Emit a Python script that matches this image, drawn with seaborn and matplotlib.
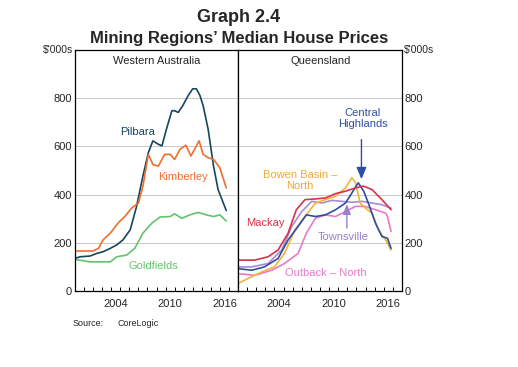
import matplotlib
matplotlib.use("Agg")
import matplotlib.pyplot as plt
import seaborn as sns
import pandas as pd
import numpy as np

# ---------------- data ----------------
pilbara_x = [2000, 2000.55, 2001.65, 2002.4, 2003.1, 2003.9, 2004.6, 2005.3, 2006.1, 2006.8, 2007.5,
             2008.1, 2008.6, 2009.2, 2009.6, 2010.1, 2010.7, 2011.0, 2011.4, 2011.9, 2012.5, 2013.0,
             2013.4, 2013.8, 2014.15, 2014.7, 2015.3, 2015.8, 2016.7]
pilbara_y = [135, 142, 145, 156, 163, 177, 191, 212, 254, 351, 477, 574, 623, 609, 602, 672, 748, 748,
             741, 769, 811, 839, 839, 811, 769, 672, 518, 421, 334]

kimberley_x = [2000, 2002.0, 2002.6, 2003.1, 2003.9, 2004.8, 2005.5, 2006.25, 2007.0, 2007.5, 2008.1,
               2008.6, 2009.2, 2009.9, 2010.5, 2011.0, 2011.6, 2012.25, 2012.8, 2013.2, 2013.7, 2014.15,
               2014.7, 2015.3, 2016.0, 2016.7]
kimberley_y = [166, 166, 177, 212, 240, 284, 309, 344, 365, 435, 567, 525, 518, 567, 567, 546, 588, 605,
               560, 588, 623, 567, 553, 546, 511, 428]

goldfields_x = [2000, 2001.65, 2003.9, 2004.6, 2005.7, 2006.6, 2007.5, 2008.5, 2009.4, 2010.5, 2011.0,
                2011.8, 2012.7, 2013.6, 2014.5, 2015.3, 2016.0, 2016.7]
goldfields_y = [131, 121, 121, 142, 149, 177, 240, 282, 307, 309, 320, 302, 316, 326, 316, 309, 316, 290]

mackay_x = [2000, 2001.8, 2003.3, 2004.4, 2005.5, 2006.4, 2007.35, 2008.5, 2009.6, 2010.7, 2011.8,
            2012.9, 2013.8, 2014.7, 2015.8, 2016.8]
mackay_y = [128, 128, 142, 170, 240, 337, 379, 382, 386, 404, 414, 428, 435, 421, 379, 337]

central_x = [2000, 2001.5, 2002.9, 2004.4, 2005.5, 2006.6, 2007.5, 2008.5, 2009.6, 2010.7, 2011.8,
             2012.5, 2013.2, 2013.8, 2014.3, 2015.1, 2015.8, 2016.4, 2016.8]
central_y = [93, 86, 100, 135, 212, 268, 316, 309, 316, 337, 365, 407, 449, 414, 365, 281, 226, 219, 177]

bowen_x = [2000, 2001.1, 2002.6, 2004.0, 2005.1, 2006.25, 2007.35, 2008.5, 2009.6, 2010.7, 2011.8,
           2012.5, 2012.9, 2013.4, 2014.0, 2014.7, 2015.4, 2016.2, 2016.8]
bowen_y = [31, 52, 79, 100, 156, 254, 309, 365, 379, 393, 428, 470, 449, 365, 344, 323, 254, 212, 170]

townsville_x = [2000, 2001.5, 2003.3, 2004.8, 2005.9, 2007.0, 2008.1, 2009.2, 2010.3, 2011.4, 2012.5,
                2013.6, 2014.7, 2015.8, 2016.8]
townsville_y = [100, 100, 114, 170, 268, 330, 372, 365, 376, 372, 368, 372, 365, 358, 344]

outback_x = [2000, 2001.8, 2003.7, 2005.1, 2006.6, 2007.5, 2008.5, 2009.6, 2010.7, 2011.8, 2012.9,
             2014.0, 2015.1, 2016.2, 2016.4, 2016.8]
outback_y = [72, 65, 86, 114, 156, 240, 302, 316, 309, 330, 351, 351, 337, 323, 309, 247]

y_ticks = [0, 200, 400, 600, 800]
x_tick_labels = ["2004", "2010", "2016"]

# ---------------- styling ----------------
sns.set_theme(style="white")
plt.rcParams['font.family'] = ['Liberation Sans', 'DejaVu Sans']

colors = {
    "Pilbara": "#17455a",
    "Kimberley": "#ee6f2d",
    "Goldfields": "#62c46a",
    "Mackay": "#d9314b",
    "Central Highlands": "#2f4ea3",
    "Bowen Basin – North": "#f4b336",
    "Townsville": "#a88bd2",
    "Outback – North": "#e67ac8",
}

def frame(name, xs, ys):
    return pd.DataFrame({"year": xs, "value": ys, "series": name})

wa = pd.concat([frame("Pilbara", pilbara_x, pilbara_y),
                frame("Kimberley", kimberley_x, kimberley_y),
                frame("Goldfields", goldfields_x, goldfields_y)], ignore_index=True)
qld = pd.concat([frame("Townsville", townsville_x, townsville_y),
                 frame("Outback – North", outback_x, outback_y),
                 frame("Bowen Basin – North", bowen_x, bowen_y),
                 frame("Central Highlands", central_x, central_y),
                 frame("Mackay", mackay_x, mackay_y)], ignore_index=True)

fig = plt.figure(figsize=(5.18, 3.67), dpi=100)
L, R, B, T = 75/518, 402/518, 1 - 291/367, 1 - 50/367
mid = 238/518
ax1 = fig.add_axes([L, B, mid - L, T - B])
ax2 = fig.add_axes([mid, B, R - mid, T - B])

for ax, df in [(ax1, wa), (ax2, qld)]:
    for yv in [200, 400, 600, 800]:
        ax.axhline(yv, color="#c8c8c8", lw=0.7, zorder=0)
    sns.lineplot(data=df, x="year", y="value", hue="series", palette=colors,
                 ax=ax, legend=False, linewidth=1.2, estimator=None, sort=False)
    ax.set_xlim(2000, 2018)
    ax.set_ylim(0, 1000)
    ax.set_xlabel("")
    ax.set_ylabel("")
    ax.set_xticks([2004.5, 2010.5, 2016.5])
    ax.set_xticklabels(x_tick_labels, fontsize=8)
    ax.set_xticks(np.arange(2001, 2018, 1), minor=True)
    ax.tick_params(axis="x", which="major", length=0, pad=6)
    ax.tick_params(axis="x", which="minor", direction="in", length=3, width=0.7, color="black", bottom=True)
    for s in ax.spines.values():
        s.set_color("black")
        s.set_linewidth(0.9)

ax1.set_yticks(y_ticks)
ax1.set_yticklabels([str(v) for v in y_ticks], fontsize=8)
ax1.tick_params(axis="y", length=0, pad=2)
ax2.set_yticks(y_ticks)
ax2.yaxis.tick_right()
ax2.set_yticklabels([str(v) for v in y_ticks], fontsize=8)
ax2.tick_params(axis="y", length=0, pad=2, left=False, labelleft=False)

# panel titles and labels
ax1.text(2009.05, 954, "Western Australia", ha="center", va="center", fontsize=8)
ax2.text(2009.05, 954, "Queensland", ha="center", va="center", fontsize=8)
ax1.text(2006.95, 661, "Pilbara", ha="center", va="center", fontsize=8, color=colors["Pilbara"])
ax1.text(2011.9, 473, "Kimberley", ha="center", va="center", fontsize=8, color=colors["Kimberley"])
ax1.text(2008.6, 105, "Goldfields", ha="center", va="center", fontsize=8, color=colors["Goldfields"])

ax2.text(2013.7, 715, "Central\nHighlands", ha="center", va="center", fontsize=8,
         color=colors["Central Highlands"], linespacing=1.1)
ax2.annotate("", xy=(2013.55, 452), xytext=(2013.55, 640),
             arrowprops=dict(arrowstyle="-|>,head_length=0.6,head_width=0.25",
                             color=colors["Central Highlands"], lw=1.0))
ax2.text(2006.8, 460, "Bowen Basin –\nNorth", ha="center", va="center", fontsize=8,
         color="#f0a830", linespacing=1.1)
ax2.text(2003.0, 284, "Mackay", ha="center", va="center", fontsize=8, color=colors["Mackay"])
ax2.text(2011.5, 226, "Townsville", ha="center", va="center", fontsize=8, color="#9b7fcc")
ax2.annotate("", xy=(2011.95, 372), xytext=(2011.95, 250),
             arrowprops=dict(arrowstyle="-|>,head_length=0.5,head_width=0.2",
                             color="#9b7fcc", lw=1.0))
ax2.text(2009.6, 75, "Outback – North", ha="center", va="center", fontsize=8,
         color=colors["Outback – North"])

# units
fig.text(73/518, 1 - 50/367, "$'000s", ha="right", va="center", fontsize=7.5)
fig.text(404/518, 1 - 50/367, "$'000s", ha="left", va="center", fontsize=7.5)

# titles
fig.text(239/518, 1 - 17/367, "Graph 2.4", ha="center", va="center", fontsize=13, fontweight="bold")
fig.text(239/518, 1 - 38/367, "Mining Regions’ Median House Prices", ha="center", va="center",
         fontsize=12, fontweight="bold")

fig.text(73/518, 1 - 323/367, "Source:", ha="left", va="center", fontsize=6.5)
fig.text(117/518, 1 - 323/367, "CoreLogic", ha="left", va="center", fontsize=6.5)

fig.savefig("out.png", dpi=100, facecolor="white")
